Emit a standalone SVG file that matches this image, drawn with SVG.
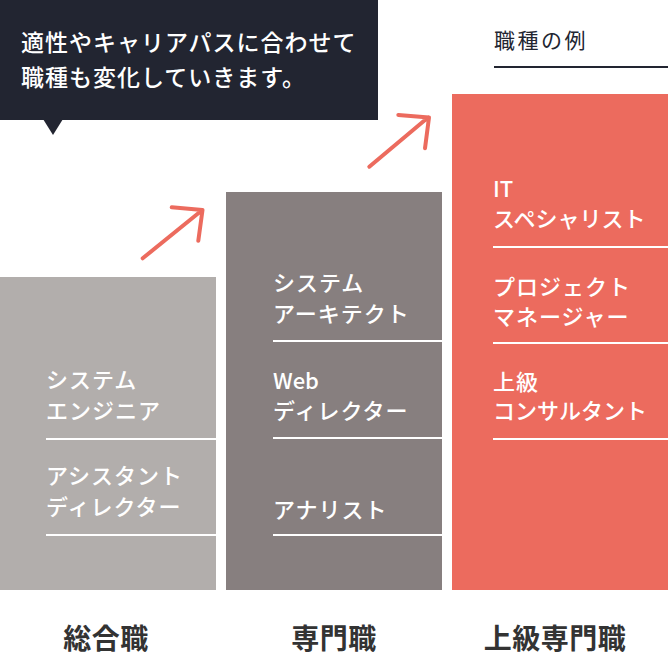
<svg xmlns="http://www.w3.org/2000/svg" width="668" height="656" viewBox="0 0 668 656">
<defs>
<style>
.cjk{font-family:"Noto Sans CJK JP","Noto Sans",sans-serif;}
.col{fill:#ffffff;font-size:22px;letter-spacing:1px;font-weight:500;}
.w7{letter-spacing:0px;}
.lat{letter-spacing:0px;}
.lbl{fill:#333333;font-size:28px;font-weight:700;text-anchor:middle;letter-spacing:0.5px;}
.sep{stroke:#ffffff;stroke-width:2;}
.arr{fill:none;stroke:#ec6b5e;stroke-width:4;stroke-linecap:round;stroke-linejoin:round;}
</style>
</defs>
<rect width="668" height="656" fill="#ffffff"/>

<g id="callout">
<rect x="0" y="0" width="378" height="120" fill="#222531"/>
<polygon points="43,119 63,119 53,135" fill="#222531"/>
<text class="cjk" x="21" y="51" fill="#ffffff" font-size="23" font-weight="500" letter-spacing="1">適性やキャリアパスに合わせて</text>
<text class="cjk" x="21" y="86" fill="#ffffff" font-size="23" font-weight="500" letter-spacing="1">職種も変化していきます。</text>
</g>

<g id="legend">
<text class="cjk" x="494" y="48" fill="#222531" font-size="21" letter-spacing="2.5">職種の例</text>
<line x1="494" y1="67" x2="668" y2="67" stroke="#222531" stroke-width="2"/>
</g>

<g id="col-general">
<rect x="0" y="277" width="216" height="313" fill="#b2aeac"/>
<text class="cjk col" x="46" y="388">システム</text>
<text class="cjk col" x="46" y="419">エンジニア</text>
<line class="sep" x1="46" y1="439" x2="216" y2="439"/>
<text class="cjk col" x="46" y="484">アシスタント</text>
<text class="cjk col" x="46" y="515">ディレクター</text>
<line class="sep" x1="46" y1="535" x2="216" y2="535"/>
<text class="cjk lbl" x="106" y="649">総合職</text>
</g>

<g id="col-specialist">
<rect x="226" y="192" width="216" height="398" fill="#877f7f"/>
<text class="cjk col" x="273" y="291">システム</text>
<text class="cjk col" x="273" y="322">アーキテクト</text>
<line class="sep" x1="273" y1="341" x2="442" y2="341"/>
<text class="cjk col lat" x="273" y="389">Web</text>
<text class="cjk col" x="273" y="419">ディレクター</text>
<line class="sep" x1="273" y1="438" x2="442" y2="438"/>
<text class="cjk col" x="273" y="518">アナリスト</text>
<line class="sep" x1="273" y1="535" x2="442" y2="535"/>
<text class="cjk lbl" x="334" y="649">専門職</text>
</g>

<g id="col-senior">
<rect x="452" y="94" width="216" height="496" fill="#ec6b5e"/>
<text class="cjk col lat" x="493" y="197">IT</text>
<text class="cjk col w7" x="493" y="227">スペシャリスト</text>
<line class="sep" x1="493" y1="247" x2="668" y2="247"/>
<text class="cjk col" x="493" y="295">プロジェクト</text>
<text class="cjk col" x="493" y="325">マネージャー</text>
<line class="sep" x1="493" y1="343" x2="668" y2="343"/>
<text class="cjk col" x="493" y="390">上級</text>
<text class="cjk col w7" x="493" y="419">コンサルタント</text>
<line class="sep" x1="493" y1="439" x2="668" y2="439"/>
<text class="cjk lbl" x="555" y="649">上級専門職</text>
</g>

<g id="connectors">
<path class="arr" d="M142.7,258.3 L201.7,210.5 M171.7,207.3 L202.5,210 L198.3,240.7"/>
<path class="arr" d="M369.3,166.7 L428.3,117.3 M398.3,115 L429,117.5 L425,148.3"/>
</g>
</svg>
